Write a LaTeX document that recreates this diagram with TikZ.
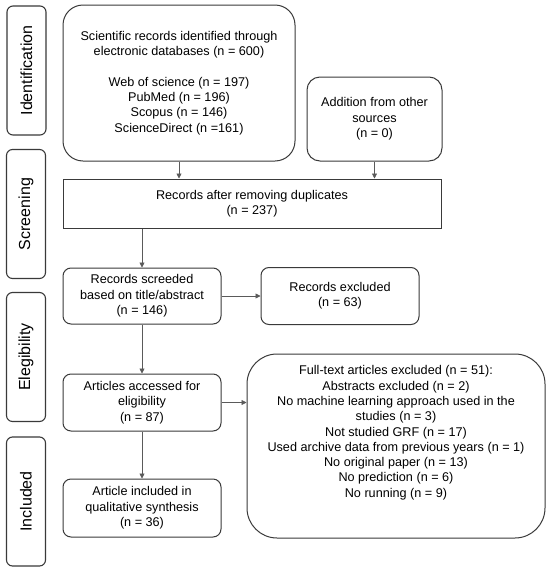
\documentclass[tikz,border=0pt]{standalone}
\usepackage{fontspec}
\setmainfont{Liberation Sans}
\usetikzlibrary{arrows.meta,calc}
\definecolor{bord}{HTML}{3A3A3A}
\definecolor{arr}{HTML}{5A5A5A}
\begin{document}
\begin{tikzpicture}[x=1pt,y=-1pt,
  box/.style={draw=bord,line width=1pt,rectangle,inner sep=0pt,align=center,
    font=\fontsize{12.65}{15.3}\selectfont,text=black},
  phase/.style={draw=bord,line width=1.1pt,rectangle,rounded corners=6pt,inner sep=0pt,
    rotate=90,minimum width=129pt,minimum height=39pt,font=\fontsize{16}{19}\selectfont},
  arrowline/.style={draw=arr,line width=0.7pt,-{Triangle[length=5pt,width=5pt]}}]
\useasboundingbox (0,0) rectangle (550,571);
\fill[white] (0,0) rectangle (550,571);
% phase labels
\node[phase] (pid) at (26.5,70.5) {Identification};
\node[phase] (psc) at (26,214) {Screening};
\node[phase] (pel) at (26,357) {Elegibility};
\node[phase] (pin) at (26,501.5) {Included};
% boxes
\node[box,rounded corners=20pt,minimum width=232pt,minimum height=156pt] (top) at (179,83)
  {Scientific records identified through\\electronic databases (n = 600)\\[15.3pt]
   Web of science (n = 197)\\PubMed (n = 196)\\Scopus (n = 146)\\ScienceDirect (n =161)};
\node[box,rounded corners=13pt,minimum width=135pt,minimum height=84pt] (add) at (374.5,119)
  {Addition from other\\sources\\(n = 0)};
\node[box,minimum width=378pt,minimum height=49pt] (dup) at (252,203.5)
  {Records after removing duplicates\\(n = 237)};
\node[box,rounded corners=8pt,minimum width=158pt,minimum height=56pt] (scr) at (142,296)
  {Records screeded\\based on title/abstract\\(n = 146)};
\node[box,rounded corners=8pt,minimum width=158pt,minimum height=57pt] (exc) at (340,296)
  {Records excluded\\(n = 63)};
\node[box,rounded corners=8pt,minimum width=158pt,minimum height=57pt] (acc) at (142,402.5)
  {Articles accessed for\\eligibility\\(n = 87)};
\node[box,rounded corners=30pt,minimum width=298pt,minimum height=184pt] (full) at (396,446)
  {Full-text articles excluded (n = 51):\\Abstracts excluded (n = 2)\\No machine learning approach used in the\\studies (n = 3)\\Not studied GRF (n = 17)\\Used archive data from previous years (n = 1)\\No original paper (n = 13)\\No prediction (n = 6)\\No running (n = 9)\\[-0.5pt]\mbox{}\\[-1pt]};
\node[box,rounded corners=8pt,minimum width=158pt,minimum height=58pt] (inc) at (142,508)
  {Article included in\\qualitative synthesis\\(n = 36)};
% arrows
\draw[arrowline] (top.south) -- (top.south |- dup.north);
\draw[arrowline] (add.south) -- (add.south |- dup.north);
\draw[arrowline] (scr.north |- dup.south) -- (scr.north);
\draw[arrowline] (scr.east) -- (exc.west);
\draw[arrowline] (scr.south) -- (acc.north);
\draw[arrowline] (acc.east) -- (acc.east -| full.west);
\draw[arrowline] (acc.south) -- (inc.north);
\end{tikzpicture}
\end{document}
